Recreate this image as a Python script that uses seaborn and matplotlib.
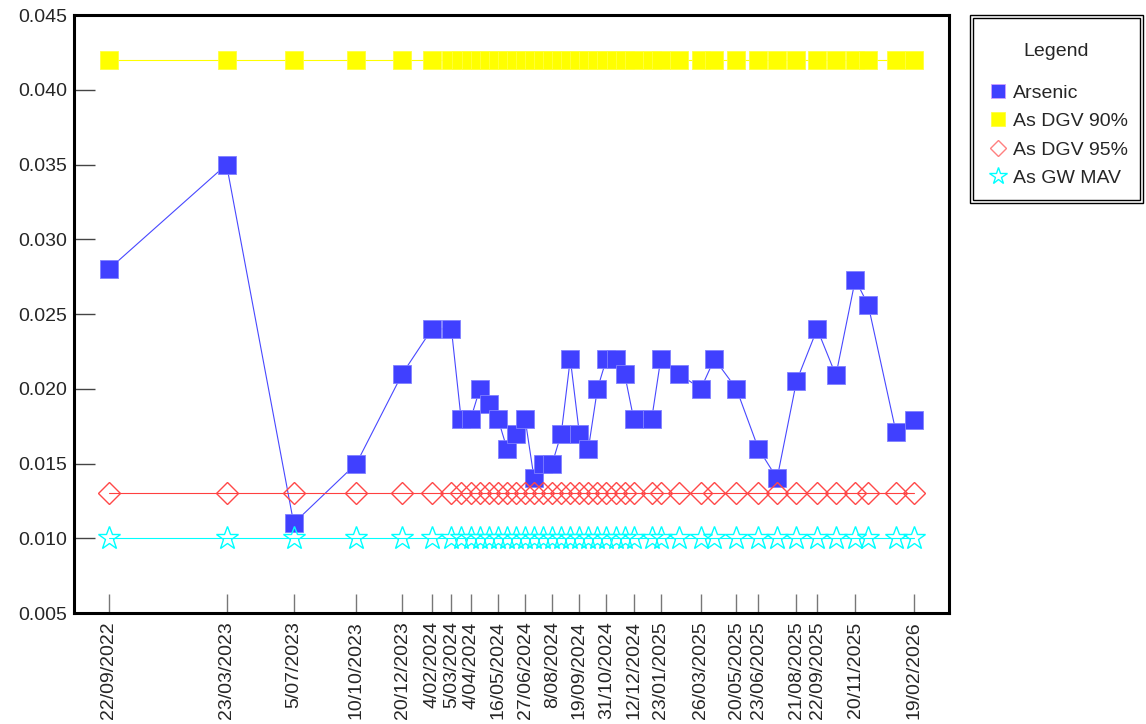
import pandas as pd
import matplotlib.pyplot as plt
import seaborn as sns
from matplotlib.lines import Line2D
from matplotlib.patches import Rectangle

sns.set_style('white')
plt.rcParams['font.family'] = ['Liberation Sans', 'DejaVu Sans']

# Sample dates (dd/mm/yyyy) and arsenic results (mg/L)
sample_dates = ['22/09/2022', '23/03/2023', '05/07/2023', '10/10/2023', '20/12/2023',
                '04/02/2024', '05/03/2024', '20/03/2024', '04/04/2024', '18/04/2024',
                '02/05/2024', '16/05/2024', '30/05/2024', '13/06/2024', '27/06/2024',
                '11/07/2024', '25/07/2024', '08/08/2024', '22/08/2024', '05/09/2024',
                '19/09/2024', '03/10/2024', '17/10/2024', '31/10/2024', '14/11/2024',
                '28/11/2024', '12/12/2024', '09/01/2025', '23/01/2025', '20/02/2025',
                '26/03/2025', '16/04/2025', '20/05/2025', '23/06/2025', '22/07/2025',
                '21/08/2025', '22/09/2025', '21/10/2025', '20/11/2025', '10/12/2025',
                '22/01/2026', '19/02/2026']
arsenic = [0.028, 0.035, 0.011, 0.015, 0.021,
           0.024, 0.024, 0.018, 0.018, 0.020,
           0.019, 0.018, 0.016, 0.017, 0.018,
           0.014, 0.015, 0.015, 0.017, 0.022,
           0.017, 0.016, 0.020, 0.022, 0.022,
           0.021, 0.018, 0.018, 0.022, 0.021,
           0.020, 0.022, 0.020, 0.016, 0.014,
           0.0205, 0.024, 0.0209, 0.0273, 0.0256,
           0.0171, 0.0179]

# Guideline values
dgv_90 = 0.042
dgv_95 = 0.013
gw_mav = 0.010

tick_labels = ['22/09/2022', '23/03/2023', '5/07/2023', '10/10/2023', '20/12/2023',
               '4/02/2024', '5/03/2024', '4/04/2024', '16/05/2024', '27/06/2024',
               '8/08/2024', '19/09/2024', '31/10/2024', '12/12/2024', '23/01/2025',
               '26/03/2025', '20/05/2025', '23/06/2025', '21/08/2025', '22/09/2025',
               '20/11/2025', '19/02/2026']
y_ticks = [0.005, 0.010, 0.015, 0.020, 0.025, 0.030, 0.035, 0.040, 0.045]

dates = pd.to_datetime(sample_dates, format='%d/%m/%Y')
df = pd.DataFrame({
    'date': dates,
    'Arsenic': arsenic,
    'As DGV 90%': [dgv_90] * len(dates),
    'As DGV 95%': [dgv_95] * len(dates),
    'As GW MAV': [gw_mav] * len(dates),
})

fig = plt.figure(figsize=(11.46, 7.24), dpi=100)
ax = fig.add_axes([74 / 1146, 1 - 613 / 724, (949 - 74) / 1146, (613 - 15) / 724])

styles = {
    'Arsenic': dict(color='#4848FF', marker='s', markersize=12.5, markerfacecolor='#4040FF',
                    markeredgecolor='#8080FF', markeredgewidth=0.6),
    'As DGV 90%': dict(color='#FFFF00', marker='s', markersize=12.5, markerfacecolor='#FFFF00',
                       markeredgecolor='#FFFF40', markeredgewidth=0.6),
    'As DGV 95%': dict(color='#FF4040', marker='D', markersize=11.5, markerfacecolor='none',
                       markeredgecolor='#FF4848', markeredgewidth=1.0),
    'As GW MAV': dict(color='#00FFFF', marker='*', markersize=17, markerfacecolor='none',
                      markeredgecolor='#00FFFF', markeredgewidth=1.0),
}

for name, st in styles.items():
    sns.lineplot(data=df, x='date', y=name, ax=ax, linewidth=0.8, legend=False, **st)

ax.set_xlim(pd.Timestamp('2022-07-30'), pd.Timestamp('2026-04-14'))
ax.set_ylim(0.005, 0.045)
ax.set_yticks(y_ticks)
ax.set_yticklabels([f'{v:.3f}' for v in y_ticks])
ax.set_xticks(pd.to_datetime(tick_labels, format='%d/%m/%Y'))
ax.set_xticklabels(tick_labels, rotation=90)
ax.set_xlabel('')
ax.set_ylabel('')

ax.tick_params(axis='y', direction='in', length=15, width=1, color='#444444',
               labelsize=14, pad=5, left=True)
ax.tick_params(axis='x', direction='in', length=14, width=1, color='#777777',
               labelsize=14, pad=6, bottom=True)
for sp in ax.spines.values():
    sp.set_visible(True)
    sp.set_color('black')
    sp.set_linewidth(2.2)

# Legend box with double border
x0, x1 = 970 / 1146, 1143 / 1146
y0, y1 = 1 - 203 / 724, 1 - 15 / 724
fig.patches.append(Rectangle((x0, y0), x1 - x0, y1 - y0, transform=fig.transFigure,
                             fill=False, edgecolor='black', linewidth=1.0))
dx, dy = 3 / 1146, 3 / 724
fig.patches.append(Rectangle((x0 + dx, y0 + dy), x1 - x0 - 2 * dx, y1 - y0 - 2 * dy,
                             transform=fig.transFigure, fill=False, edgecolor='black',
                             linewidth=1.0))
fig.text((x0 + x1) / 2, 1 - 51 / 724, 'Legend', ha='center', va='center', fontsize=14)

handles = [
    Line2D([], [], linestyle='None', marker='s', markersize=9.5, markerfacecolor='#4040FF',
           markeredgecolor='#D0A0FF', markeredgewidth=0.6),
    Line2D([], [], linestyle='None', marker='s', markersize=9.5, markerfacecolor='#FFFF00',
           markeredgecolor='#FFFF40', markeredgewidth=0.6),
    Line2D([], [], linestyle='None', marker='D', markersize=8, markerfacecolor='none',
           markeredgecolor='#FF8080', markeredgewidth=1.0),
    Line2D([], [], linestyle='None', marker='*', markersize=13, markerfacecolor='none',
           markeredgecolor='#00FFFF', markeredgewidth=1.0),
]
fig.legend(handles, list(styles.keys()), loc='upper left',
           bbox_to_anchor=(989 / 1146, 1 - 84 / 724), frameon=False, fontsize=14,
           borderpad=0, handlelength=0.9, handletextpad=0.35, labelspacing=0.56,
           borderaxespad=0)

fig.savefig('out.png', dpi=100, facecolor='white')
